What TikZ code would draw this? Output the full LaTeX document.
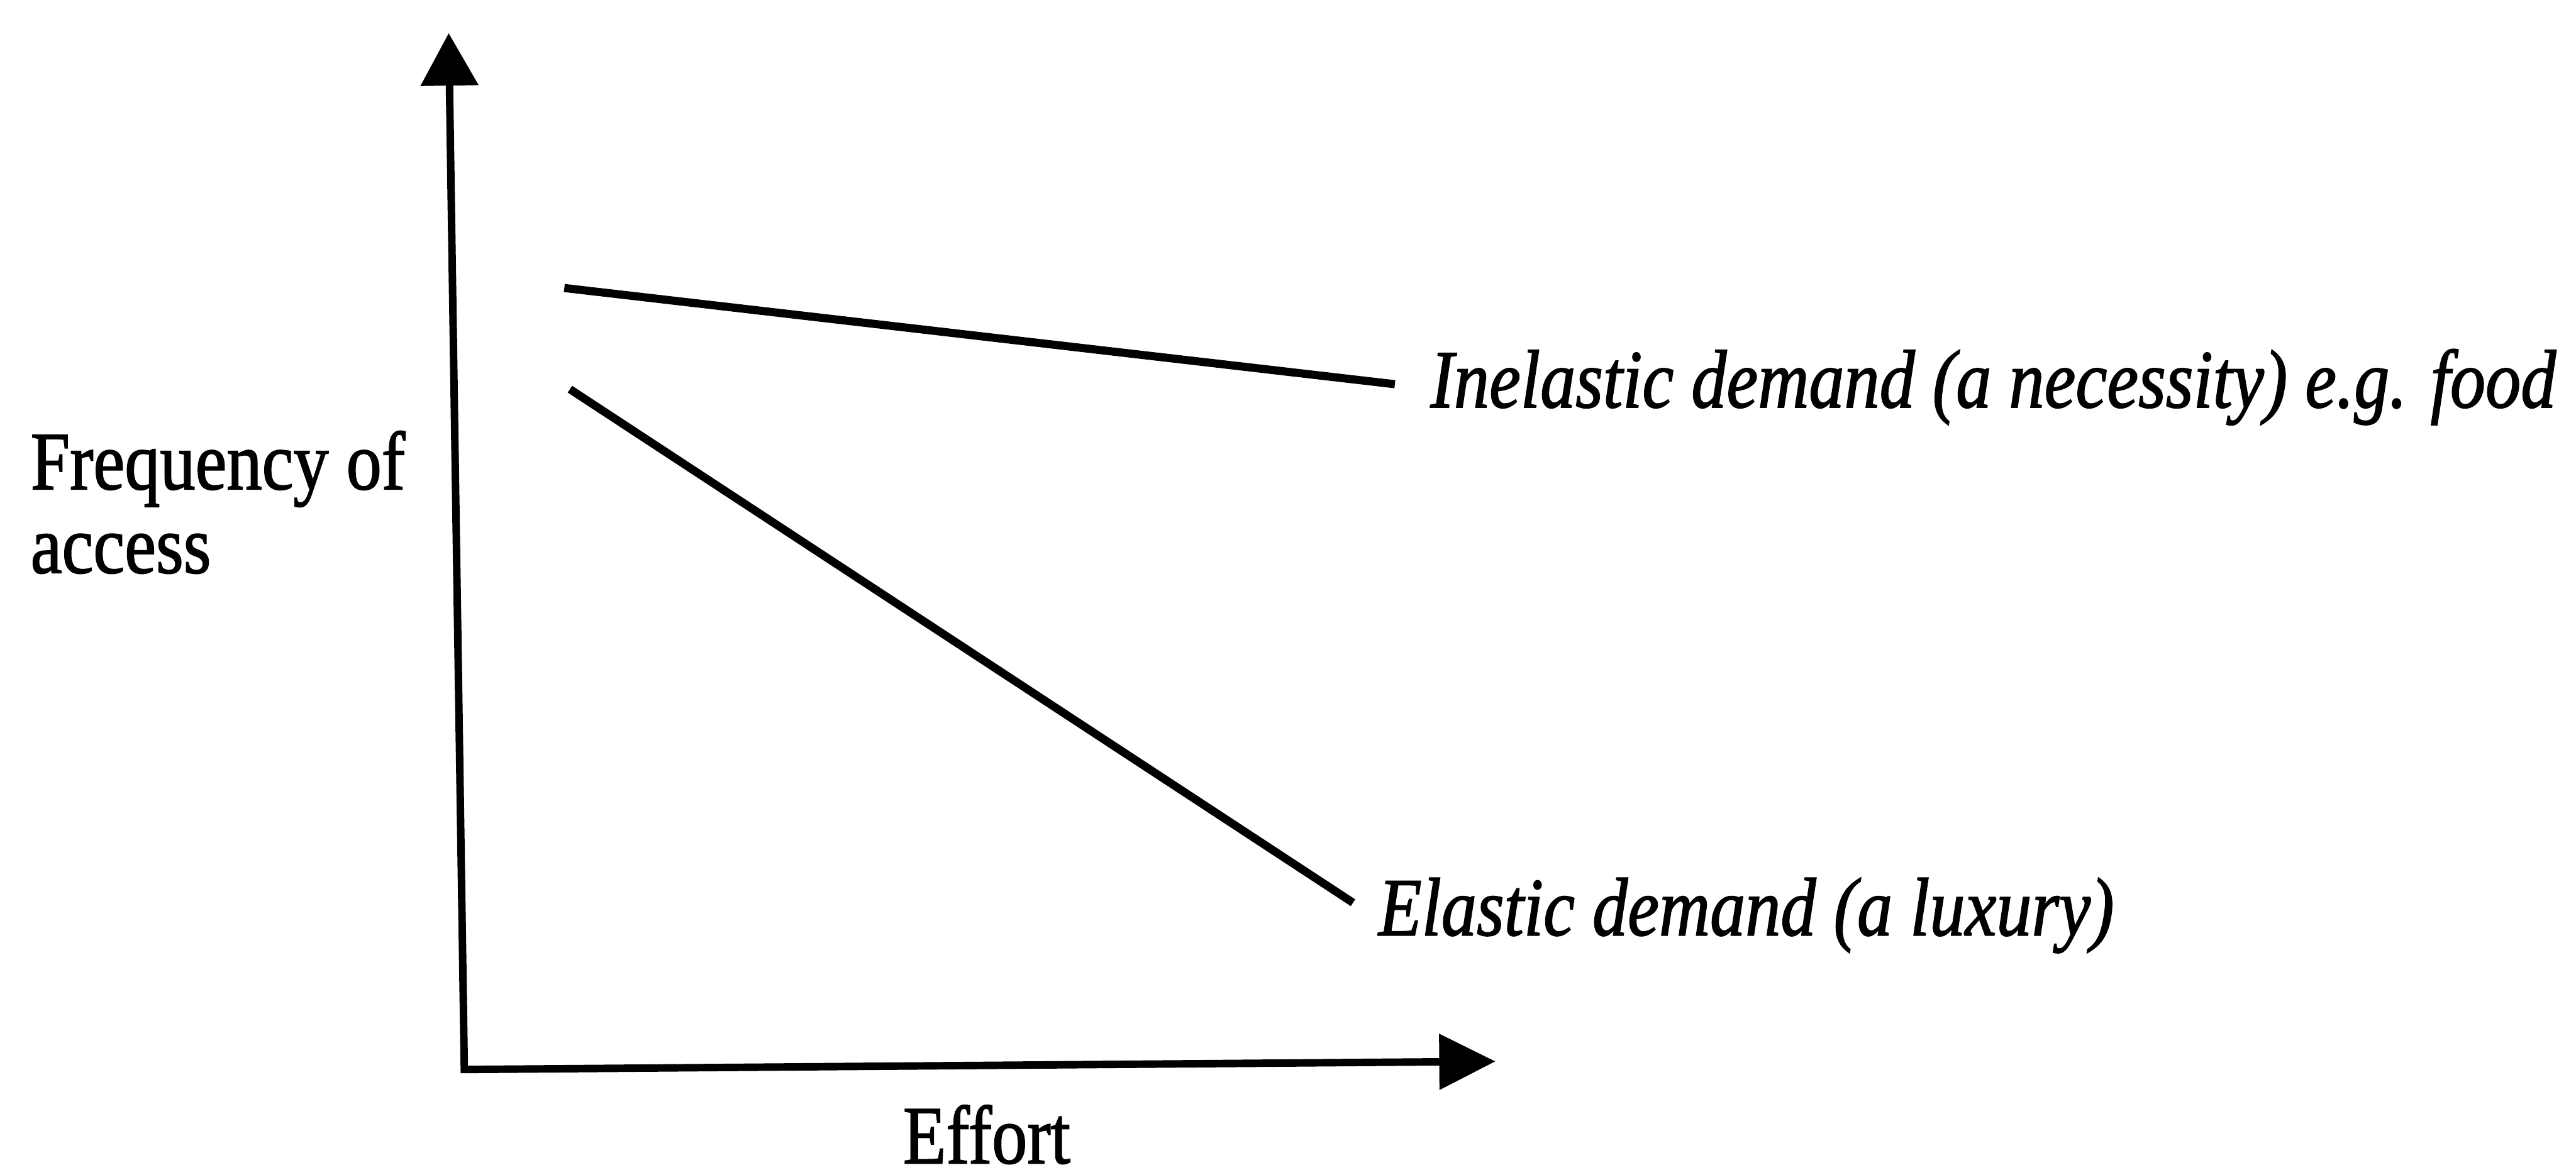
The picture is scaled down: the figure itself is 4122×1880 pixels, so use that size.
\documentclass[tikz,border=0pt]{standalone}
\usepackage{fontspec}
\usepackage{graphicx}
\setmainfont{Liberation Serif}[FakeBold=1.5]
\usetikzlibrary{arrows.meta}

\tikzset{
  axisline/.style={line width=1.2pt, line join=miter,
    {Triangle[length=8.4pt,width=9pt]}-{Triangle[length=9pt,width=8.7pt]}},
  demandline/.style={line width=1.3pt},
  lbl/.style={anchor=base west, inner sep=0pt,
    font=\fontsize{11.3pt}{13pt}\selectfont},
}
% printed labels are set a little taller than the font's own proportions
\newcommand{\tallertext}[1]{\scalebox{1}[1.17]{#1}}

\begin{document}
\begin{tikzpicture}[x=0.1pt,y=-0.1pt]
  \useasboundingbox (0,0) rectangle (4122,1880);

  % axes
  \coordinate (ytip)   at (718,53);
  \coordinate (origin) at (743,1712);
  \coordinate (xtip)   at (2393,1699);
  \draw[axisline] (ytip) -- (origin) -- (xtip);

  % demand curves
  \coordinate (inelA) at (903,461);
  \coordinate (inelB) at (2232,615);
  \coordinate (elA)   at (912,623);
  \coordinate (elB)   at (2165,1445);
  \draw[demandline] (inelA) -- (inelB);
  \draw[demandline] (elA) -- (elB);

  % labels
  \node[lbl] (freq)   at (47,783)    {\tallertext{Frequency of}};
  \node[lbl] (access) at (47,917)    {\tallertext{access}};
  \node[lbl] (effort) at (1443,1862) {\tallertext{Effort}};
  \node[lbl] (inel)   at (2287,652)  {\tallertext{\itshape Inelastic demand (a necessity) e.g. food}};
  \node[lbl] (el)     at (2204,1497) {\tallertext{\itshape Elastic demand (a luxury)}};
\end{tikzpicture}
\end{document}
